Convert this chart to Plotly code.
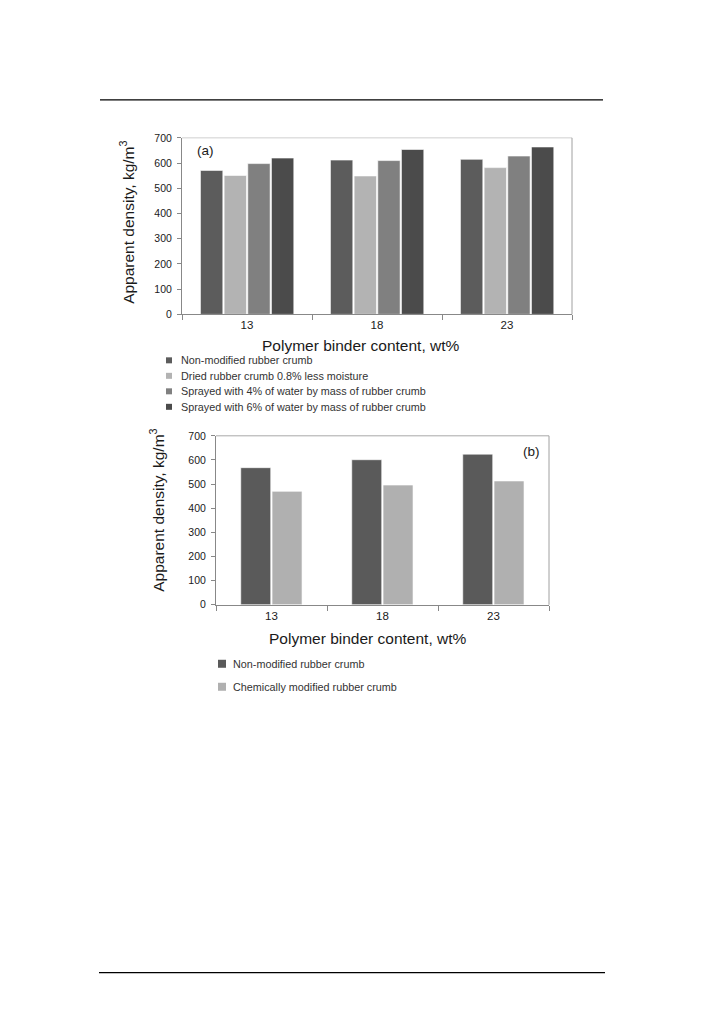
import plotly.graph_objects as go

W, H = 702, 1035

# ---------------- data ----------------
categories = ["13", "18", "23"]

series_a_names = [
    "Non-modified rubber crumb",
    "Dried rubber crumb 0.8% less moisture",
    "Sprayed with 4% of water by mass of rubber crumb",
    "Sprayed with 6% of water by mass of rubber crumb",
]
non_modified_a = [571, 612, 615]
dried_a = [551, 549, 582]
sprayed4_a = [598, 610, 628]
sprayed6_a = [620, 654, 664]
series_a_values = [non_modified_a, dried_a, sprayed4_a, sprayed6_a]

series_b_names = ["Non-modified rubber crumb", "Chemically modified rubber crumb"]
non_modified_b = [568, 601, 624]
chem_modified_b = [470, 496, 513]
series_b_values = [non_modified_b, chem_modified_b]

y_ticks = [0, 100, 200, 300, 400, 500, 600, 700]

# ---------------- styles ----------------
colors_a = ["#5c5c5c", "#b3b3b3", "#808080", "#4b4b4b"]
colors_b = ["#5a5a5a", "#b0b0b0"]
offsets_a = [-0.358, -0.176, 0.006, 0.188]
width_a = 0.172
offsets_b = [-0.277, 0.005]
width_b = 0.27
TXT = "#1a1a1a"
FONT = "Liberation Sans, Arial, sans-serif"

# empirical mapping of the rendered page (vertical)
Y_TOP, Y_SPAN = 5.1, 1023.2


def px(x):
    return x / W


def py(y):
    return 1 - (y - Y_TOP) / Y_SPAN


fig = go.Figure()

for name, vals, col, off in zip(series_a_names, series_a_values, colors_a, offsets_a):
    fig.add_trace(go.Bar(x=categories, y=vals, name=name, marker_color=col,
                         marker_line_color="white", marker_line_width=0.6,
                         offset=off, width=width_a, xaxis="x", yaxis="y",
                         showlegend=False))

for name, vals, col, off in zip(series_b_names, series_b_values, colors_b, offsets_b):
    fig.add_trace(go.Bar(x=categories, y=vals, name=name, marker_color=col,
                         marker_line_color="white", marker_line_width=0.6,
                         offset=off, width=width_b, xaxis="x2", yaxis="y2",
                         showlegend=False))

axis_common_x = dict(type="category", tickson="boundaries", ticks="outside", ticklen=5,
                     tickcolor="#888", linecolor="#888", linewidth=1, showgrid=False,
                     zeroline=False, range=[-0.5, 2.5],
                     tickfont=dict(size=11.5, color=TXT, family=FONT))
axis_common_y = dict(range=[0, 700], tickvals=y_ticks, ticks="outside", ticklen=4,
                     tickcolor="#888", linecolor="#888", linewidth=1, showgrid=False,
                     zeroline=False, tickfont=dict(size=10.5, color=TXT, family=FONT),
                     ticklabelstandoff=3)

fig.update_layout(
    width=W, height=H,
    margin=dict(l=0, r=0, t=0, b=0),
    paper_bgcolor="white", plot_bgcolor="white",
    barmode="group",
    showlegend=False,
    font=dict(family=FONT, color=TXT),
    xaxis=dict(domain=[px(182), px(572)], anchor="y", **axis_common_x),
    yaxis=dict(domain=[py(313.5), py(137)], anchor="x", **axis_common_y),
    xaxis2=dict(domain=[px(216), px(549)], anchor="y2", **axis_common_x),
    yaxis2=dict(domain=[py(604), py(435)], anchor="x2", **axis_common_y),
)

shapes = []
# page rules
shapes.append(dict(type="line", xref="paper", yref="paper", x0=px(100), x1=px(603),
                   y0=py(99), y1=py(99), line=dict(color="black", width=1.2)))
shapes.append(dict(type="line", xref="paper", yref="paper", x0=px(99), x1=px(605),
                   y0=py(972), y1=py(972), line=dict(color="black", width=1.2)))
# frames (top & right) of both charts
for xa, ya, tc in (("x", "y", "#cfcfcf"), ("x2", "y2", "#a8a8a8")):
    shapes.append(dict(type="line", xref=xa + " domain", yref=ya + " domain",
                       x0=0, x1=1, y0=1, y1=1, line=dict(color=tc, width=1)))
    shapes.append(dict(type="line", xref=xa + " domain", yref=ya + " domain",
                       x0=1, x1=1, y0=0, y1=1, line=dict(color="#a0a0a0", width=1)))

annotations = []
# axis titles
annotations.append(dict(text="Apparent density, kg/m<sup>3</sup>", xref="paper", yref="paper",
                        x=px(127), y=py(222), textangle=-90, showarrow=False,
                        xanchor="center", yanchor="middle", font=dict(size=15.5, color=TXT)))
annotations.append(dict(text="Polymer binder content, wt%", xref="paper", yref="paper",
                        x=px(361), y=py(345), showarrow=False,
                        xanchor="center", yanchor="middle", font=dict(size=15.5, color=TXT)))
annotations.append(dict(text="Apparent density, kg/m<sup>3</sup>", xref="paper", yref="paper",
                        x=px(157), y=py(510), textangle=-90, showarrow=False,
                        xanchor="center", yanchor="middle", font=dict(size=15.5, color=TXT)))
annotations.append(dict(text="Polymer binder content, wt%", xref="paper", yref="paper",
                        x=px(368), y=py(638), showarrow=False,
                        xanchor="center", yanchor="middle", font=dict(size=15.5, color=TXT)))
# panel labels
annotations.append(dict(text="(a)", xref="paper", yref="paper", x=px(206), y=py(150),
                        showarrow=False, xanchor="center", yanchor="middle",
                        font=dict(size=13.5, color=TXT)))
annotations.append(dict(text="(b)", xref="paper", yref="paper", x=px(531), y=py(451),
                        showarrow=False, xanchor="center", yanchor="middle",
                        font=dict(size=13.5, color=TXT)))

# legends (drawn as squares + text)
leg_a_y = [359.5, 375, 390.5, 406]
for name, col, yy in zip(series_a_names, colors_a, leg_a_y):
    shapes.append(dict(type="rect", xref="paper", yref="paper", x0=px(166), x1=px(172),
                       y0=py(yy + 3), y1=py(yy - 3), fillcolor=col, line=dict(width=0)))
    annotations.append(dict(text=name, xref="paper", yref="paper", x=px(179), y=py(yy),
                            showarrow=False, xanchor="left", yanchor="middle",
                            font=dict(size=10.8, color="#333")))
leg_b_y = [663, 686]
for name, col, yy in zip(series_b_names, colors_b, leg_b_y):
    shapes.append(dict(type="rect", xref="paper", yref="paper", x0=px(218), x1=px(226),
                       y0=py(yy + 4), y1=py(yy - 4), fillcolor=col, line=dict(width=0)))
    annotations.append(dict(text=name, xref="paper", yref="paper", x=px(231), y=py(yy),
                            showarrow=False, xanchor="left", yanchor="middle",
                            font=dict(size=10.8, color="#333")))

fig.update_layout(shapes=shapes, annotations=annotations)

fig.write_html("out.html", config={"displayModeBar": False},
               post_script="document.body.style.margin='0';document.body.style.padding='0';"
                           "document.body.style.overflow='hidden';")
